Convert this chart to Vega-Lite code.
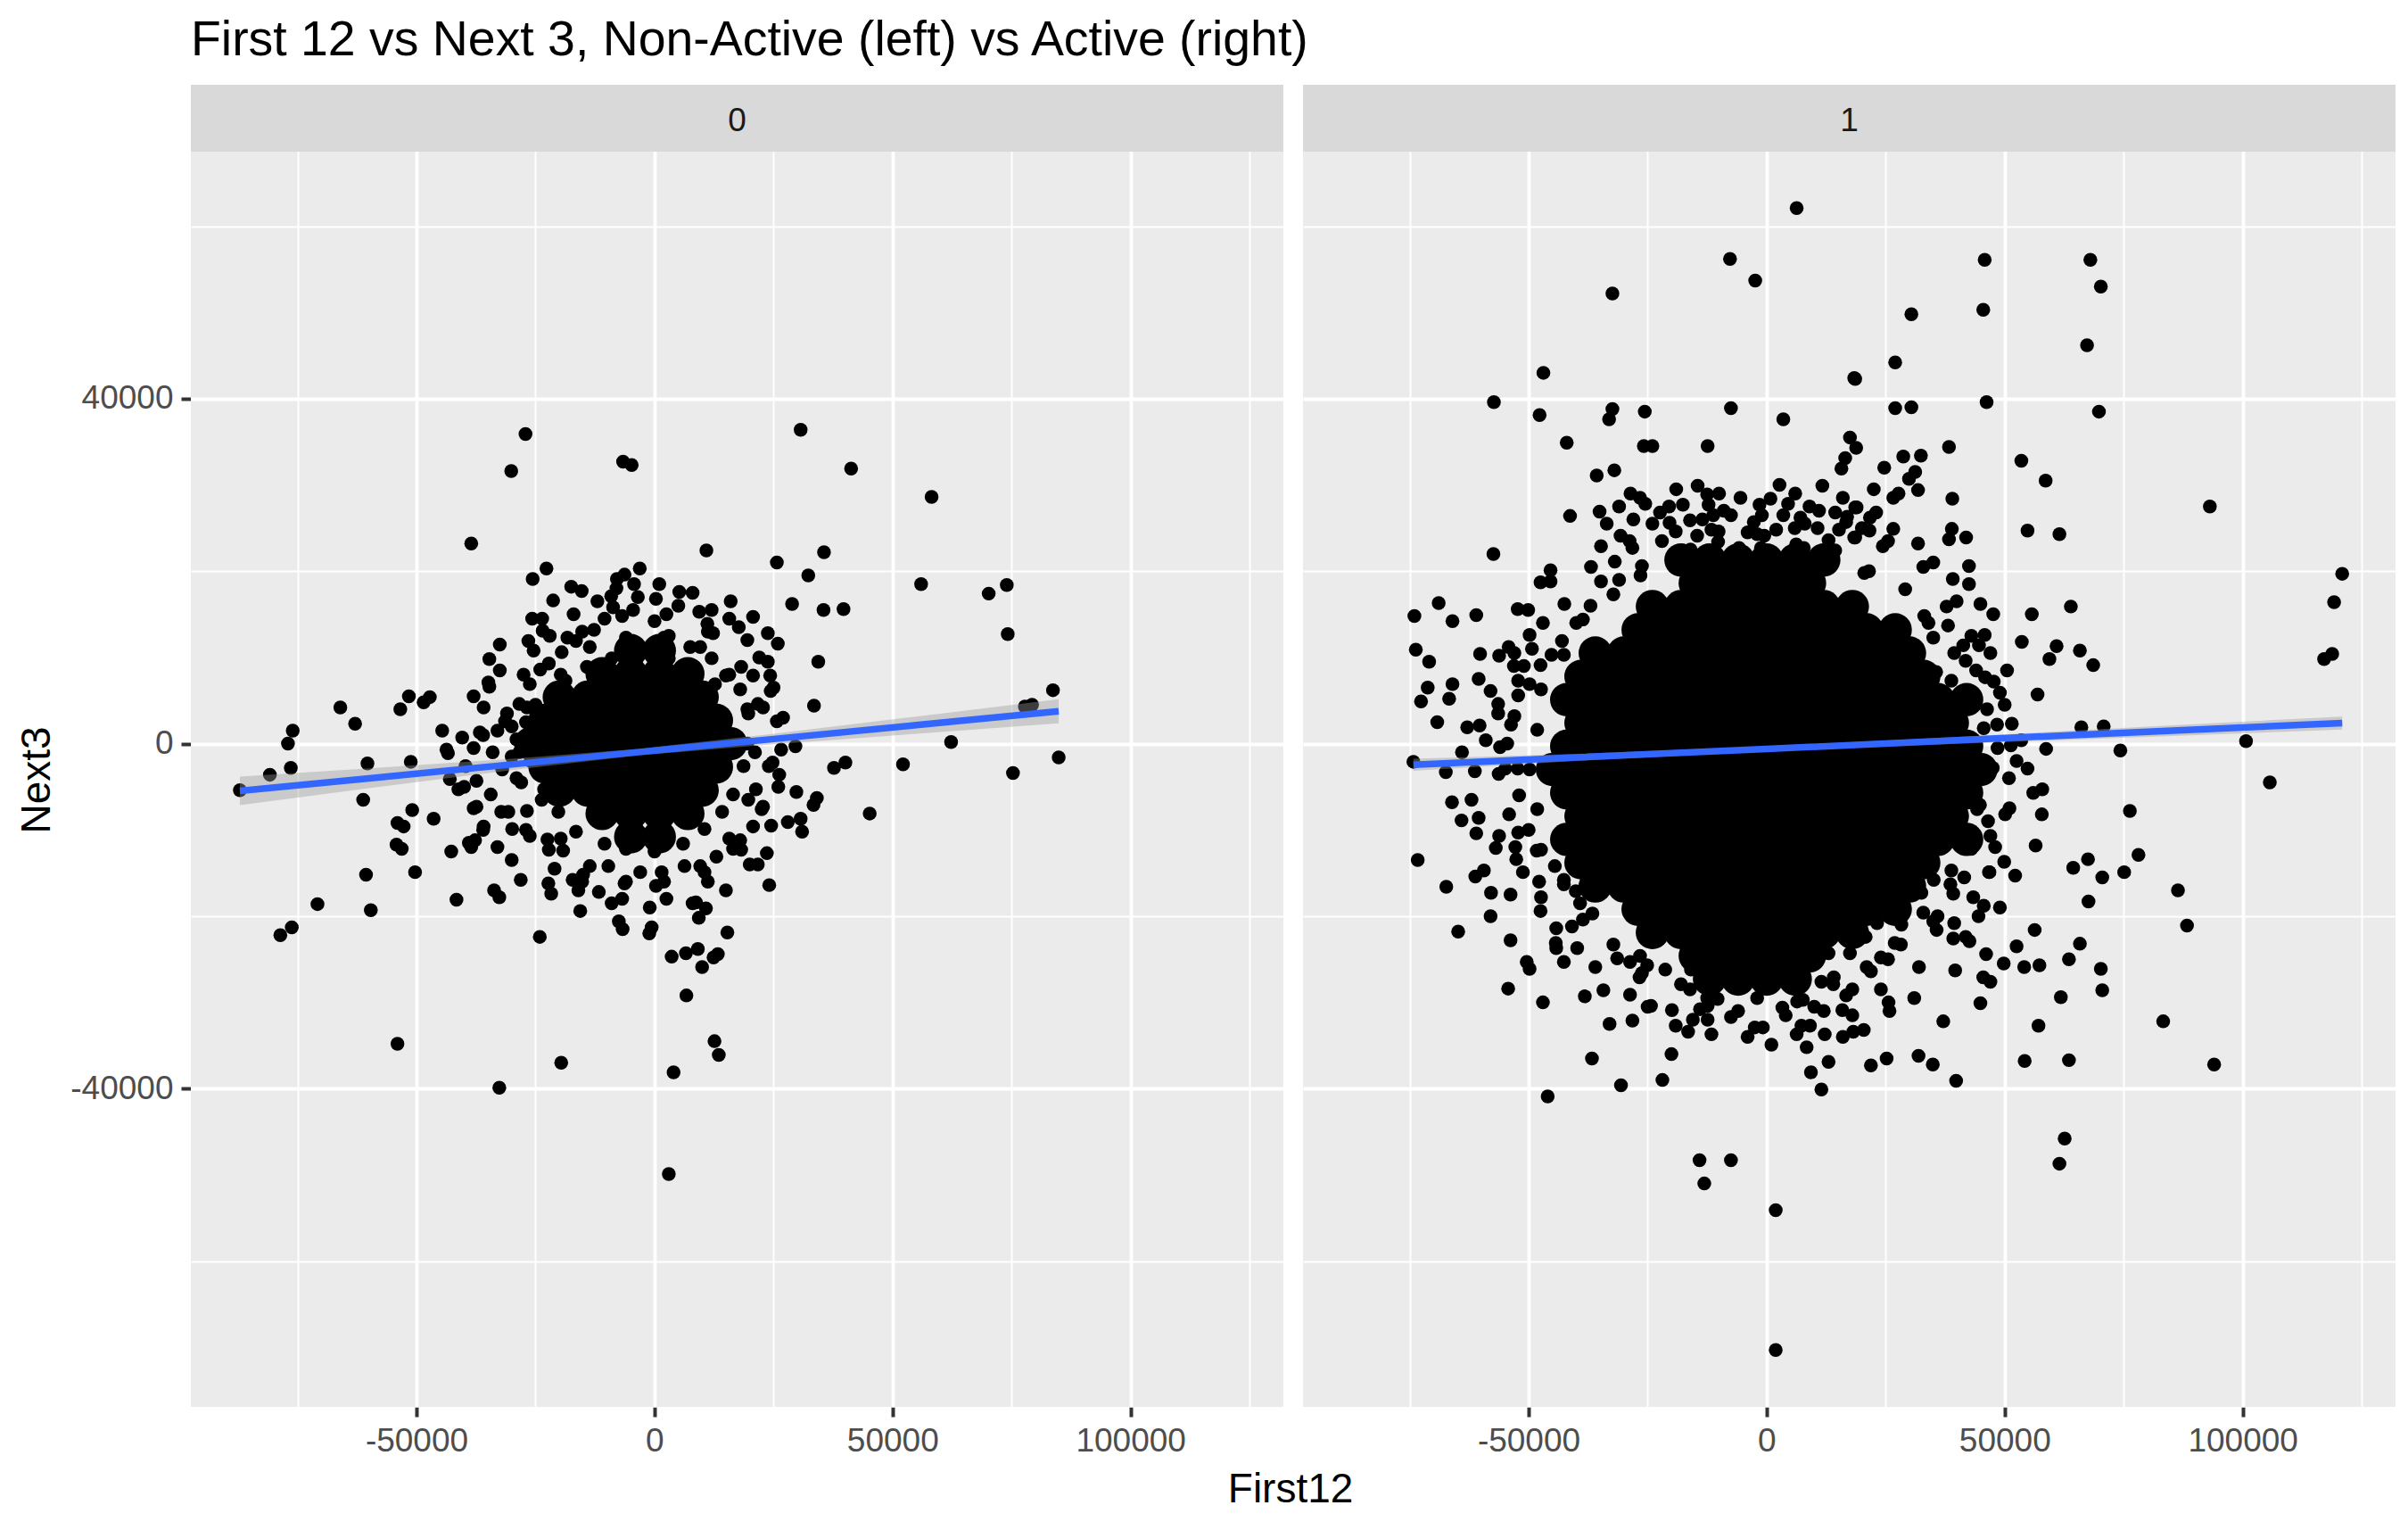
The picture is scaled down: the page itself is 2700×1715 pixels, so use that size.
{
  "$schema": "https://vega.github.io/schema/vega-lite/v6.json",
  "background": "#FFFFFF",
  "padding": {"left": 18, "top": 17, "right": 10, "bottom": 10},
  "title": {
    "text": "First12",
    "orient": "bottom",
    "anchor": "start",
    "frame": "bounds",
    "dx": 1358,
    "font": "Liberation Sans",
    "fontSize": 46,
    "fontWeight": "normal",
    "color": "#000000",
    "offset": 15
  },
  "data": {
    "values": [
      {"Active": 0, "First12": -27100, "Next3": 35900}, {"Active": 0, "First12": 30700, "Next3": 36400},
      {"Active": 0, "First12": -6600, "Next3": 32700}, {"Active": 0, "First12": -4800, "Next3": 32300},
      {"Active": 0, "First12": -30100, "Next3": 31600}, {"Active": 0, "First12": 41300, "Next3": 31900},
      {"Active": 0, "First12": 58200, "Next3": 28600}, {"Active": 0, "First12": -38500, "Next3": 23200},
      {"Active": 0, "First12": 10900, "Next3": 22400}, {"Active": 0, "First12": 35600, "Next3": 22200},
      {"Active": 0, "First12": 25700, "Next3": 21000}, {"Active": 0, "First12": 32300, "Next3": 19500},
      {"Active": 0, "First12": -22700, "Next3": 20300}, {"Active": 0, "First12": -25600, "Next3": 19100},
      {"Active": 0, "First12": 56000, "Next3": 18500}, {"Active": 0, "First12": 70200, "Next3": 17400},
      {"Active": 0, "First12": 74000, "Next3": 18400}, {"Active": 0, "First12": 74200, "Next3": 12700},
      {"Active": 0, "First12": 28900, "Next3": 16200}, {"Active": 0, "First12": 35500, "Next3": 15500},
      {"Active": 0, "First12": 39700, "Next3": 15600}, {"Active": 0, "First12": 34400, "Next3": 9500},
      {"Active": 0, "First12": 33500, "Next3": 4400}, {"Active": 0, "First12": 83700, "Next3": 6200},
      {"Active": 0, "First12": 79300, "Next3": 4500}, {"Active": 0, "First12": 77800, "Next3": 4300},
      {"Active": 0, "First12": 62300, "Next3": 200}, {"Active": 0, "First12": 84900, "Next3": -1600},
      {"Active": 0, "First12": 75300, "Next3": -3400}, {"Active": 0, "First12": 52200, "Next3": -2400},
      {"Active": 0, "First12": 40100, "Next3": -2200}, {"Active": 0, "First12": 37700, "Next3": -2800},
      {"Active": 0, "First12": 45200, "Next3": -8100}, {"Active": 0, "First12": 29600, "Next3": -300},
      {"Active": 0, "First12": 29800, "Next3": -5600}, {"Active": 0, "First12": 34100, "Next3": -6300},
      {"Active": 0, "First12": 33400, "Next3": -7100}, {"Active": 0, "First12": 28000, "Next3": -9100},
      {"Active": 0, "First12": 30700, "Next3": -8700}, {"Active": 0, "First12": 31000, "Next3": -10200},
      {"Active": 0, "First12": 23600, "Next3": -12700}, {"Active": 0, "First12": 21700, "Next3": -14000},
      {"Active": 0, "First12": 24100, "Next3": -16400}, {"Active": 0, "First12": 15300, "Next3": -21900},
      {"Active": 0, "First12": 13300, "Next3": -24400}, {"Active": 0, "First12": 8700, "Next3": -18400},
      {"Active": 0, "First12": 10800, "Next3": -19100}, {"Active": 0, "First12": 9300, "Next3": -20200},
      {"Active": 0, "First12": 9100, "Next3": -23800}, {"Active": 0, "First12": 12400, "Next3": -24800},
      {"Active": 0, "First12": 10000, "Next3": -25900}, {"Active": 0, "First12": 6600, "Next3": -24300},
      {"Active": 0, "First12": 3600, "Next3": -24700}, {"Active": 0, "First12": 6700, "Next3": -29200},
      {"Active": 0, "First12": 12600, "Next3": -34500}, {"Active": 0, "First12": 13500, "Next3": -36100},
      {"Active": 0, "First12": 4000, "Next3": -38100}, {"Active": 0, "First12": 3000, "Next3": -49900},
      {"Active": 0, "First12": -7500, "Next3": -20600}, {"Active": 0, "First12": -6700, "Next3": -21500},
      {"Active": 0, "First12": -600, "Next3": -21300}, {"Active": 0, "First12": -1100, "Next3": -22000},
      {"Active": 0, "First12": -24100, "Next3": -22400}, {"Active": 0, "First12": -19600, "Next3": -37000},
      {"Active": 0, "First12": -32600, "Next3": -39900}, {"Active": 0, "First12": -54000, "Next3": -34800},
      {"Active": 0, "First12": -70800, "Next3": -18600}, {"Active": 0, "First12": -59600, "Next3": -19300},
      {"Active": 0, "First12": -60600, "Next3": -15200}, {"Active": 0, "First12": -78600, "Next3": -22200},
      {"Active": 0, "First12": -76200, "Next3": -21300}, {"Active": 0, "First12": -50300, "Next3": -14900},
      {"Active": 0, "First12": -41600, "Next3": -18100}, {"Active": 0, "First12": -33700, "Next3": -17000},
      {"Active": 0, "First12": -32600, "Next3": -17800}, {"Active": 0, "First12": -28100, "Next3": -15800},
      {"Active": 0, "First12": -22300, "Next3": -16200}, {"Active": 0, "First12": -21700, "Next3": -17400},
      {"Active": 0, "First12": -15600, "Next3": -19400}, {"Active": 0, "First12": -42700, "Next3": -12500},
      {"Active": 0, "First12": -38500, "Next3": -12000}, {"Active": 0, "First12": -54200, "Next3": -11700},
      {"Active": 0, "First12": -53100, "Next3": -12200}, {"Active": 0, "First12": -54000, "Next3": -9200},
      {"Active": 0, "First12": -52700, "Next3": -9600}, {"Active": 0, "First12": -50900, "Next3": -7700},
      {"Active": 0, "First12": -46400, "Next3": -8700}, {"Active": 0, "First12": -61200, "Next3": -6500},
      {"Active": 0, "First12": -87100, "Next3": -5400}, {"Active": 0, "First12": -80800, "Next3": -3600},
      {"Active": 0, "First12": -76400, "Next3": -2800}, {"Active": 0, "First12": -77000, "Next3": 0},
      {"Active": 0, "First12": -76000, "Next3": 1500}, {"Active": 0, "First12": -66000, "Next3": 4200},
      {"Active": 0, "First12": -62900, "Next3": 2300}, {"Active": 0, "First12": -60300, "Next3": -2300},
      {"Active": 0, "First12": -51200, "Next3": -2100}, {"Active": 0, "First12": -53400, "Next3": 4000},
      {"Active": 0, "First12": -51600, "Next3": 5500}, {"Active": 0, "First12": -48500, "Next3": 4800},
      {"Active": 0, "First12": -47200, "Next3": 5400}, {"Active": 0, "First12": -44600, "Next3": 1500},
      {"Active": 0, "First12": -43400, "Next3": -1100}, {"Active": 0, "First12": -43000, "Next3": -4100},
      {"Active": 0, "First12": -38000, "Next3": 5500}, {"Active": 0, "First12": -35900, "Next3": 4200},
      {"Active": 0, "First12": -34900, "Next3": 7100}, {"Active": 0, "First12": -34700, "Next3": 6600},
      {"Active": 0, "First12": -34700, "Next3": 9800}, {"Active": 0, "First12": -32500, "Next3": 11500},
      {"Active": 0, "First12": -32500, "Next3": 8500}, {"Active": 0, "First12": -26500, "Next3": 11900},
      {"Active": 0, "First12": -25400, "Next3": 10800}, {"Active": 0, "First12": -25700, "Next3": 14500},
      {"Active": 0, "First12": -23600, "Next3": 14500}, {"Active": 0, "First12": -23500, "Next3": 13100},
      {"Active": 0, "First12": -21300, "Next3": 16600}, {"Active": 0, "First12": -17500, "Next3": 18200},
      {"Active": 0, "First12": -15300, "Next3": 17700}, {"Active": 0, "First12": -18300, "Next3": 12300},
      {"Active": 0, "First12": 5200, "Next3": 17600}, {"Active": 0, "First12": 300, "Next3": 16800},
      {"Active": 0, "First12": -3100, "Next3": 20300}, {"Active": 0, "First12": -6300, "Next3": 19600},
      {"Active": 0, "First12": -7900, "Next3": 19100}, {"Active": 0, "First12": -9100, "Next3": 17100},
      {"Active": 0, "First12": -8700, "Next3": 15800}, {"Active": 0, "First12": -4300, "Next3": 18500},
      {"Active": 0, "First12": 9400, "Next3": 15300}, {"Active": 0, "First12": 11100, "Next3": 13900},
      {"Active": 0, "First12": 15700, "Next3": 14500}, {"Active": 0, "First12": 20700, "Next3": 14700},
      {"Active": 0, "First12": 17700, "Next3": 13500}, {"Active": 0, "First12": 12300, "Next3": 12800},
      {"Active": 0, "First12": 23800, "Next3": 12800}, {"Active": 0, "First12": 25900, "Next3": 11600},
      {"Active": 0, "First12": 23800, "Next3": 9500}, {"Active": 0, "First12": 20700, "Next3": 7900},
      {"Active": 0, "First12": 24300, "Next3": 7900}, {"Active": 0, "First12": 24400, "Next3": 6100},
      {"Active": 0, "First12": 21700, "Next3": 4600}, {"Active": 0, "First12": 25700, "Next3": 2600},
      {"Active": 0, "First12": 26600, "Next3": -700}, {"Active": 0, "First12": 24000, "Next3": -2600},
      {"Active": 0, "First12": 26200, "Next3": -3600}, {"Active": 0, "First12": 21300, "Next3": -5300},
      {"Active": 0, "First12": 22500, "Next3": -7600}, {"Active": 0, "First12": 20700, "Next3": -9600},
      {"Active": 0, "First12": 18000, "Next3": -11200}, {"Active": 0, "First12": 16500, "Next3": -12200},
      {"Active": 0, "First12": 13000, "Next3": -13100}, {"Active": 0, "First12": 10500, "Next3": -14900},
      {"Active": 0, "First12": 6300, "Next3": -14200}, {"Active": 0, "First12": 1500, "Next3": -14900},
      {"Active": 0, "First12": 300, "Next3": -16500}, {"Active": 0, "First12": -3000, "Next3": -14900},
      {"Active": 0, "First12": -6300, "Next3": -16200}, {"Active": 0, "First12": -9700, "Next3": -14200},
      {"Active": 0, "First12": -11700, "Next3": -17200}, {"Active": 0, "First12": -15000, "Next3": -15200},
      {"Active": 0, "First12": -17200, "Next3": -15800}, {"Active": 0, "First12": -19200, "Next3": -12400},
      {"Active": 0, "First12": -22500, "Next3": -11100}, {"Active": 0, "First12": -26200, "Next3": -10700},
      {"Active": 0, "First12": -29900, "Next3": -9900}, {"Active": 0, "First12": -32200, "Next3": -7900},
      {"Active": 0, "First12": -34400, "Next3": -5900}, {"Active": 0, "First12": -37400, "Next3": -4300},
      {"Active": 0, "First12": -39700, "Next3": -2600}, {"Active": 0, "First12": -41200, "Next3": -5300},
      {"Active": 0, "First12": -37400, "Next3": -7300}, {"Active": 0, "First12": -35900, "Next3": -9600},
      {"Active": 0, "First12": -37700, "Next3": -11200}, {"Active": 0, "First12": -30700, "Next3": -7900},
      {"Active": 0, "First12": -43700, "Next3": -700}, {"Active": 0, "First12": -40400, "Next3": 700},
      {"Active": 0, "First12": -36700, "Next3": 1300}, {"Active": 0, "First12": -31400, "Next3": 2600},
      {"Active": 0, "First12": -28400, "Next3": 4600}, {"Active": 0, "First12": -26200, "Next3": 6900},
      {"Active": 0, "First12": -24000, "Next3": 8600}, {"Active": 0, "First12": -19500, "Next3": 10600},
      {"Active": 0, "First12": -16500, "Next3": 11900}, {"Active": 0, "First12": -12700, "Next3": 13200},
      {"Active": 0, "First12": -10500, "Next3": 14500}, {"Active": 0, "First12": -4500, "Next3": 15500},
      {"Active": 0, "First12": 0, "Next3": 14200}, {"Active": 0, "First12": 3000, "Next3": 12500},
      {"Active": 0, "First12": 7500, "Next3": 11200}, {"Active": 0, "First12": 12000, "Next3": 9900},
      {"Active": 0, "First12": 15000, "Next3": 7900}, {"Active": 0, "First12": 18000, "Next3": 6300},
      {"Active": 0, "First12": 19500, "Next3": 4000}, {"Active": 0, "First12": 19500, "Next3": 0},
      {"Active": 0, "First12": 18700, "Next3": -2600}, {"Active": 0, "First12": 16500, "Next3": -5900},
      {"Active": 0, "First12": 14200, "Next3": -7900}, {"Active": 0, "First12": 10500, "Next3": -9900},
      {"Active": 0, "First12": 6000, "Next3": -11600}, {"Active": 0, "First12": 0, "Next3": -12500},
      {"Active": 0, "First12": -6000, "Next3": -12200}, {"Active": 0, "First12": -10500, "Next3": -11600},
      {"Active": 0, "First12": -16500, "Next3": -10200}, {"Active": 0, "First12": -20200, "Next3": -7900},
      {"Active": 0, "First12": -23200, "Next3": -5300}, {"Active": 0, "First12": -24700, "Next3": -2600},
      {"Active": 0, "First12": -24700, "Next3": 0}, {"Active": 0, "First12": -24000, "Next3": 2600},
      {"Active": 0, "First12": -21700, "Next3": 5300}, {"Active": 0, "First12": -18700, "Next3": 7300},
      {"Active": 0, "First12": -14200, "Next3": 8900}, {"Active": 0, "First12": -9000, "Next3": 9900},
      {"Active": 0, "First12": -3000, "Next3": 10600}, {"Active": 0, "First12": 3000, "Next3": 9900},
      {"Active": 0, "First12": 8200, "Next3": 8900}, {"Active": 0, "First12": 12700, "Next3": 6900},
      {"Active": 0, "First12": 21100, "Next3": -1000}, {"Active": 0, "First12": 24800, "Next3": -2200},
      {"Active": 0, "First12": 19700, "Next3": 3500}, {"Active": 0, "First12": 22800, "Next3": 4200},
      {"Active": 0, "First12": 15700, "Next3": 8000}, {"Active": 0, "First12": 18200, "Next3": 8900},
      {"Active": 0, "First12": 9600, "Next3": 11200}, {"Active": 0, "First12": 11200, "Next3": 13000},
      {"Active": 0, "First12": 2000, "Next3": 12300}, {"Active": 0, "First12": 2500, "Next3": 15000},
      {"Active": 0, "First12": -6000, "Next3": 12300}, {"Active": 0, "First12": -6800, "Next3": 14800},
      {"Active": 0, "First12": -13600, "Next3": 11200}, {"Active": 0, "First12": -15200, "Next3": 13000},
      {"Active": 0, "First12": -19700, "Next3": 8000}, {"Active": 0, "First12": -22200, "Next3": 9300},
      {"Active": 0, "First12": -23700, "Next3": 3500}, {"Active": 0, "First12": -26800, "Next3": 4200},
      {"Active": 0, "First12": -25100, "Next3": -1500}, {"Active": 0, "First12": -28400, "Next3": -1000},
      {"Active": 0, "First12": -23700, "Next3": -6500}, {"Active": 0, "First12": -26800, "Next3": -7800},
      {"Active": 0, "First12": -19700, "Next3": -11000}, {"Active": 0, "First12": -22200, "Next3": -12300},
      {"Active": 0, "First12": -13600, "Next3": -14200}, {"Active": 0, "First12": -15200, "Next3": -16000},
      {"Active": 0, "First12": -6000, "Next3": -16000}, {"Active": 0, "First12": -6800, "Next3": -18000},
      {"Active": 0, "First12": 2000, "Next3": -16000}, {"Active": 0, "First12": 2500, "Next3": -18000},
      {"Active": 0, "First12": 9600, "Next3": -14200}, {"Active": 0, "First12": 11200, "Next3": -16000},
      {"Active": 0, "First12": 15700, "Next3": -11000}, {"Active": 0, "First12": 18200, "Next3": -12300},
      {"Active": 0, "First12": 19700, "Next3": -6500}, {"Active": 0, "First12": 22800, "Next3": -7300},
      {"Active": 0, "First12": -12000, "Next3": 16500}, {"Active": 0, "First12": -8000, "Next3": 18000},
      {"Active": 0, "First12": -3500, "Next3": 17000}, {"Active": 0, "First12": 1000, "Next3": 18500},
      {"Active": 0, "First12": 5000, "Next3": 16000}, {"Active": 0, "First12": 8000, "Next3": 17500},
      {"Active": 0, "First12": 12000, "Next3": 15500}, {"Active": 0, "First12": 16000, "Next3": 16500},
      {"Active": 0, "First12": 19500, "Next3": 12000}, {"Active": 0, "First12": 22000, "Next3": 10000},
      {"Active": 0, "First12": 25000, "Next3": 6500}, {"Active": 0, "First12": 27000, "Next3": 3000},
      {"Active": 0, "First12": 26000, "Next3": -5000}, {"Active": 0, "First12": 24500, "Next3": -9500},
      {"Active": 0, "First12": 20000, "Next3": -14000}, {"Active": 0, "First12": 15000, "Next3": -17000},
      {"Active": 0, "First12": 8000, "Next3": -18500}, {"Active": 0, "First12": -1000, "Next3": -19000},
      {"Active": 0, "First12": -9000, "Next3": -18500}, {"Active": 0, "First12": -16000, "Next3": -17000},
      {"Active": 0, "First12": -21000, "Next3": -14500}, {"Active": 0, "First12": -27000, "Next3": -10000},
      {"Active": 0, "First12": -29000, "Next3": -4000}, {"Active": 0, "First12": -30000, "Next3": 2000},
      {"Active": 0, "First12": -27500, "Next3": 8000}, {"Active": 0, "First12": -22000, "Next3": 12500},
      {"Active": 0, "First12": -17000, "Next3": 15000},
      {"Active": 0, "First12": -33000, "Next3": 1500}, {"Active": 0, "First12": -31000, "Next3": 3500},
      {"Active": 0, "First12": -29000, "Next3": 500}, {"Active": 0, "First12": -27000, "Next3": 2500},
      {"Active": 0, "First12": -25000, "Next3": 4500}, {"Active": 0, "First12": -30000, "Next3": -1500},
      {"Active": 0, "First12": -26000, "Next3": -2000}, {"Active": 0, "First12": -32000, "Next3": -3000},
      {"Active": 0, "First12": -28000, "Next3": -4500}, {"Active": 0, "First12": -34000, "Next3": -1000},
      {"Active": 0, "First12": -36000, "Next3": 1000}, {"Active": 0, "First12": -38000, "Next3": -500},
      {"Active": 0, "First12": -40000, "Next3": -5000}, {"Active": 0, "First12": -38000, "Next3": -7500},
      {"Active": 0, "First12": -36000, "Next3": -10000}, {"Active": 0, "First12": -39000, "Next3": -11500},
      {"Active": 0, "First12": -33000, "Next3": -12000}, {"Active": 0, "First12": -30000, "Next3": -13500},

      {"Active": 1, "First12": 6300, "Next3": 62100}, {"Active": 1, "First12": -7700, "Next3": 56200},
      {"Active": 1, "First12": -2400, "Next3": 53700}, {"Active": 1, "First12": -32400, "Next3": 52200},
      {"Active": 1, "First12": 18600, "Next3": 42300}, {"Active": 1, "First12": -46900, "Next3": 43000},
      {"Active": 1, "First12": -57300, "Next3": 39600}, {"Active": 1, "First12": -47700, "Next3": 38100},
      {"Active": 1, "First12": -32400, "Next3": 38800}, {"Active": 1, "First12": -33100, "Next3": 37600},
      {"Active": 1, "First12": -25600, "Next3": 38500}, {"Active": 1, "First12": -7500, "Next3": 38900},
      {"Active": 1, "First12": 3500, "Next3": 37600}, {"Active": 1, "First12": -42000, "Next3": 34900},
      {"Active": 1, "First12": -25800, "Next3": 34500}, {"Active": 1, "First12": -24000, "Next3": 34500},
      {"Active": 1, "First12": -12400, "Next3": 34500}, {"Active": 1, "First12": 17500, "Next3": 35500},
      {"Active": 1, "First12": 18800, "Next3": 34300}, {"Active": 1, "First12": 16500, "Next3": 33100},
      {"Active": 1, "First12": 15700, "Next3": 31900}, {"Active": 1, "First12": -32000, "Next3": 31700},
      {"Active": 1, "First12": -35700, "Next3": 31100}, {"Active": 1, "First12": -28600, "Next3": 29000},
      {"Active": 1, "First12": -26600, "Next3": 28500}, {"Active": 1, "First12": -41300, "Next3": 26400},
      {"Active": 1, "First12": -35100, "Next3": 26900}, {"Active": 1, "First12": -33600, "Next3": 25500},
      {"Active": 1, "First12": -14500, "Next3": 29900}, {"Active": 1, "First12": -12500, "Next3": 28900},
      {"Active": 1, "First12": -12200, "Next3": 27700}, {"Active": 1, "First12": -17600, "Next3": 27700},
      {"Active": 1, "First12": -16100, "Next3": 25900}, {"Active": 1, "First12": -22400, "Next3": 26800},
      {"Active": 1, "First12": 2700, "Next3": 30000}, {"Active": 1, "First12": 800, "Next3": 28400},
      {"Active": 1, "First12": 6000, "Next3": 29000}, {"Active": 1, "First12": 11700, "Next3": 29900},
      {"Active": 1, "First12": 14400, "Next3": 26800}, {"Active": 1, "First12": 18600, "Next3": 27400},
      {"Active": 1, "First12": -5800, "Next3": 22700}, {"Active": 1, "First12": -1200, "Next3": 22700},
      {"Active": 1, "First12": -30700, "Next3": 24100}, {"Active": 1, "First12": -28800, "Next3": 23500},
      {"Active": 1, "First12": -34800, "Next3": 22900}, {"Active": 1, "First12": -31900, "Next3": 21100},
      {"Active": 1, "First12": -57400, "Next3": 22000}, {"Active": 1, "First12": -45400, "Next3": 20100},
      {"Active": 1, "First12": -47500, "Next3": 18700}, {"Active": 1, "First12": -45400, "Next3": 18800},
      {"Active": 1, "First12": -74000, "Next3": 14800}, {"Active": 1, "First12": -68900, "Next3": 16300},
      {"Active": 1, "First12": -66000, "Next3": 14200}, {"Active": 1, "First12": -61000, "Next3": 14900},
      {"Active": 1, "First12": -52300, "Next3": 15600}, {"Active": 1, "First12": -50100, "Next3": 15500},
      {"Active": 1, "First12": -73700, "Next3": 10900}, {"Active": 1, "First12": -70900, "Next3": 9500},
      {"Active": 1, "First12": -60200, "Next3": 10400}, {"Active": 1, "First12": -56200, "Next3": 10200},
      {"Active": 1, "First12": -54200, "Next3": 11200}, {"Active": 1, "First12": -53000, "Next3": 10500},
      {"Active": 1, "First12": -53100, "Next3": 9000}, {"Active": 1, "First12": -49300, "Next3": 11000},
      {"Active": 1, "First12": -47500, "Next3": 9100}, {"Active": 1, "First12": -71200, "Next3": 6500},
      {"Active": 1, "First12": -72600, "Next3": 4900}, {"Active": 1, "First12": -66000, "Next3": 6900},
      {"Active": 1, "First12": -66700, "Next3": 5200}, {"Active": 1, "First12": -58000, "Next3": 6100},
      {"Active": 1, "First12": -56400, "Next3": 4600}, {"Active": 1, "First12": -56400, "Next3": 3500},
      {"Active": 1, "First12": -49800, "Next3": 6900}, {"Active": 1, "First12": -52200, "Next3": 5600},
      {"Active": 1, "First12": -53000, "Next3": 3200}, {"Active": 1, "First12": -69200, "Next3": 2500},
      {"Active": 1, "First12": -62900, "Next3": 1900}, {"Active": 1, "First12": -60300, "Next3": 2100},
      {"Active": 1, "First12": -59000, "Next3": 400}, {"Active": 1, "First12": -56000, "Next3": -400},
      {"Active": 1, "First12": -74200, "Next3": -2100}, {"Active": 1, "First12": -67400, "Next3": -3300},
      {"Active": 1, "First12": -61300, "Next3": -3200}, {"Active": 1, "First12": -54900, "Next3": -2900},
      {"Active": 1, "First12": -52300, "Next3": -2900}, {"Active": 1, "First12": -19100, "Next3": 24600},
      {"Active": 1, "First12": -14600, "Next3": 24100}, {"Active": 1, "First12": -11600, "Next3": 24800},
      {"Active": 1, "First12": -10100, "Next3": 24600}, {"Active": 1, "First12": -2700, "Next3": 25700},
      {"Active": 1, "First12": -500, "Next3": 24100}, {"Active": 1, "First12": 5900, "Next3": 25000},
      {"Active": 1, "First12": 10700, "Next3": 25000}, {"Active": 1, "First12": 15200, "Next3": 24800},
      {"Active": 1, "First12": 16700, "Next3": 25700}, {"Active": 1, "First12": 18600, "Next3": 23900},
      {"Active": 1, "First12": 7800, "Next3": 22700}, {"Active": 1, "First12": 13000, "Next3": 23600},
      {"Active": 1, "First12": -4900, "Next3": 20200}, {"Active": 1, "First12": 1800, "Next3": 21600},
      {"Active": 1, "First12": -18400, "Next3": 21300}, {"Active": 1, "First12": -34800, "Next3": 18800},
      {"Active": 1, "First12": -31000, "Next3": 19000}, {"Active": 1, "First12": -37000, "Next3": 16000},
      {"Active": 1, "First12": -40000, "Next3": 14000}, {"Active": 1, "First12": -43000, "Next3": 11900},
      {"Active": 1, "First12": -45200, "Next3": 10300},
      {"Active": 1, "First12": 45800, "Next3": 56100}, {"Active": 1, "First12": 68000, "Next3": 56100},
      {"Active": 1, "First12": 70200, "Next3": 53000}, {"Active": 1, "First12": 30400, "Next3": 49800},
      {"Active": 1, "First12": 45500, "Next3": 50300}, {"Active": 1, "First12": 67300, "Next3": 46200},
      {"Active": 1, "First12": 27000, "Next3": 44200}, {"Active": 1, "First12": 18400, "Next3": 42400},
      {"Active": 1, "First12": 27000, "Next3": 38900}, {"Active": 1, "First12": 30400, "Next3": 39000},
      {"Active": 1, "First12": 46200, "Next3": 39600}, {"Active": 1, "First12": 69800, "Next3": 38500},
      {"Active": 1, "First12": 38300, "Next3": 34400}, {"Active": 1, "First12": 53500, "Next3": 32800},
      {"Active": 1, "First12": 58600, "Next3": 30500}, {"Active": 1, "First12": 93100, "Next3": 27500},
      {"Active": 1, "First12": 24700, "Next3": 32000}, {"Active": 1, "First12": 28700, "Next3": 33300},
      {"Active": 1, "First12": 32400, "Next3": 33400}, {"Active": 1, "First12": 31200, "Next3": 31500},
      {"Active": 1, "First12": 29900, "Next3": 30700}, {"Active": 1, "First12": 31800, "Next3": 29400},
      {"Active": 1, "First12": 26600, "Next3": 28500}, {"Active": 1, "First12": 27700, "Next3": 29000},
      {"Active": 1, "First12": 39000, "Next3": 28400}, {"Active": 1, "First12": 18900, "Next3": 27400},
      {"Active": 1, "First12": 21700, "Next3": 26200}, {"Active": 1, "First12": 26600, "Next3": 24900},
      {"Active": 1, "First12": 21600, "Next3": 24700}, {"Active": 1, "First12": 18400, "Next3": 23900},
      {"Active": 1, "First12": 38900, "Next3": 24900}, {"Active": 1, "First12": 38300, "Next3": 23700},
      {"Active": 1, "First12": 41900, "Next3": 23900}, {"Active": 1, "First12": 31800, "Next3": 23200},
      {"Active": 1, "First12": 54800, "Next3": 24700}, {"Active": 1, "First12": 61500, "Next3": 24300},
      {"Active": 1, "First12": 42500, "Next3": 20600}, {"Active": 1, "First12": 39100, "Next3": 19100},
      {"Active": 1, "First12": 42500, "Next3": 18500}, {"Active": 1, "First12": 39900, "Next3": 16500},
      {"Active": 1, "First12": 44900, "Next3": 16200}, {"Active": 1, "First12": 47600, "Next3": 15000},
      {"Active": 1, "First12": 55700, "Next3": 15000}, {"Active": 1, "First12": 63900, "Next3": 15900},
      {"Active": 1, "First12": 53600, "Next3": 11800}, {"Active": 1, "First12": 60900, "Next3": 11300},
      {"Active": 1, "First12": 59400, "Next3": 9800}, {"Active": 1, "First12": 65800, "Next3": 10800},
      {"Active": 1, "First12": 68600, "Next3": 9100}, {"Active": 1, "First12": 56900, "Next3": 5700},
      {"Active": 1, "First12": 49000, "Next3": 5900}, {"Active": 1, "First12": 120900, "Next3": 19700},
      {"Active": 1, "First12": 119200, "Next3": 16400}, {"Active": 1, "First12": 118800, "Next3": 10400},
      {"Active": 1, "First12": 117100, "Next3": 9800}, {"Active": 1, "First12": 41300, "Next3": 11400},
      {"Active": 1, "First12": 44600, "Next3": 11400}, {"Active": 1, "First12": 41800, "Next3": 9600},
      {"Active": 1, "First12": 38800, "Next3": 7300}, {"Active": 1, "First12": 35600, "Next3": 8300},
      {"Active": 1, "First12": 45900, "Next3": 7700}, {"Active": 1, "First12": 46300, "Next3": 4000},
      {"Active": 1, "First12": 48400, "Next3": 2200}, {"Active": 1, "First12": 42900, "Next3": -100},
      {"Active": 1, "First12": 33100, "Next3": 14800}, {"Active": 1, "First12": 35000, "Next3": 12300},
      {"Active": 1, "First12": 38100, "Next3": 13700}, {"Active": 1, "First12": 66100, "Next3": 1900},
      {"Active": 1, "First12": 70800, "Next3": 2000}, {"Active": 1, "First12": 100700, "Next3": 300},
      {"Active": 1, "First12": 74300, "Next3": -800}, {"Active": 1, "First12": 58700, "Next3": -600},
      {"Active": 1, "First12": 54800, "Next3": -2900}, {"Active": 1, "First12": 47500, "Next3": -2800},
      {"Active": 1, "First12": 51300, "Next3": -200}, {"Active": 1, "First12": 53500, "Next3": 400},
      {"Active": 1, "First12": -73300, "Next3": -13500}, {"Active": 1, "First12": -67300, "Next3": -16600},
      {"Active": 1, "First12": -64800, "Next3": -21800}, {"Active": 1, "First12": -53800, "Next3": -22800},
      {"Active": 1, "First12": -54300, "Next3": -28400}, {"Active": 1, "First12": -47500, "Next3": -19400},
      {"Active": 1, "First12": -66100, "Next3": -6800}, {"Active": 1, "First12": -64100, "Next3": -8900},
      {"Active": 1, "First12": -60500, "Next3": -8600}, {"Active": 1, "First12": -61000, "Next3": -10400},
      {"Active": 1, "First12": -62000, "Next3": -6500}, {"Active": 1, "First12": -61200, "Next3": -15400},
      {"Active": 1, "First12": -59400, "Next3": -14700}, {"Active": 1, "First12": -57900, "Next3": -17300},
      {"Active": 1, "First12": -53800, "Next3": -17500}, {"Active": 1, "First12": -51200, "Next3": -14900},
      {"Active": 1, "First12": -56900, "Next3": -12100}, {"Active": 1, "First12": -56200, "Next3": -10700},
      {"Active": 1, "First12": -52800, "Next3": -12000}, {"Active": 1, "First12": -52200, "Next3": -10300},
      {"Active": 1, "First12": -48300, "Next3": -12400}, {"Active": 1, "First12": -47800, "Next3": -16000},
      {"Active": 1, "First12": -44500, "Next3": -14200}, {"Active": 1, "First12": -42600, "Next3": -15800},
      {"Active": 1, "First12": -40100, "Next3": -17100}, {"Active": 1, "First12": -44200, "Next3": -21400},
      {"Active": 1, "First12": -40900, "Next3": -21200}, {"Active": 1, "First12": -44200, "Next3": -23700},
      {"Active": 1, "First12": -39800, "Next3": -23700}, {"Active": 1, "First12": -42600, "Next3": -25300},
      {"Active": 1, "First12": -50400, "Next3": -25300}, {"Active": 1, "First12": -49800, "Next3": -26100},
      {"Active": 1, "First12": -38200, "Next3": -29300}, {"Active": 1, "First12": -34300, "Next3": -28600},
      {"Active": 1, "First12": -36700, "Next3": -36500}, {"Active": 1, "First12": -30600, "Next3": -39600},
      {"Active": 1, "First12": -21900, "Next3": -39000}, {"Active": 1, "First12": -46000, "Next3": -40900},
      {"Active": 1, "First12": -39200, "Next3": -18500}, {"Active": 1, "First12": -36600, "Next3": -19700},
      {"Active": 1, "First12": -31400, "Next3": -24900}, {"Active": 1, "First12": -28700, "Next3": -25300},
      {"Active": 1, "First12": -26600, "Next3": -24600}, {"Active": 1, "First12": -25100, "Next3": -25700},
      {"Active": 1, "First12": -26700, "Next3": -27100}, {"Active": 1, "First12": -24300, "Next3": -30400},
      {"Active": 1, "First12": -28200, "Next3": -32100}, {"Active": 1, "First12": -21300, "Next3": -26200},
      {"Active": 1, "First12": -16100, "Next3": -28500}, {"Active": 1, "First12": -15900, "Next3": -26200},
      {"Active": 1, "First12": -12500, "Next3": -29500}, {"Active": 1, "First12": -12400, "Next3": -30400},
      {"Active": 1, "First12": -19100, "Next3": -32700}, {"Active": 1, "First12": -16500, "Next3": -33400},
      {"Active": 1, "First12": -15500, "Next3": -32000}, {"Active": 1, "First12": -12400, "Next3": -32000},
      {"Active": 1, "First12": -7500, "Next3": -31700}, {"Active": 1, "First12": -14100, "Next3": -48300},
      {"Active": 1, "First12": -7500, "Next3": -48300}, {"Active": 1, "First12": -13100, "Next3": -51000},
      {"Active": 1, "First12": 1900, "Next3": -54100}, {"Active": 1, "First12": 1900, "Next3": -70300},
      {"Active": 1, "First12": -800, "Next3": -32900}, {"Active": 1, "First12": 1000, "Next3": -34900},
      {"Active": 1, "First12": 3300, "Next3": -30600}, {"Active": 1, "First12": 6600, "Next3": -27700},
      {"Active": 1, "First12": 7600, "Next3": -29700}, {"Active": 1, "First12": 9100, "Next3": -32700},
      {"Active": 1, "First12": 6300, "Next3": -33700}, {"Active": 1, "First12": 12200, "Next3": -33700},
      {"Active": 1, "First12": 8400, "Next3": -35200}, {"Active": 1, "First12": 16000, "Next3": -34000},
      {"Active": 1, "First12": 9300, "Next3": -38100}, {"Active": 1, "First12": 13000, "Next3": -36900},
      {"Active": 1, "First12": 11500, "Next3": -40100}, {"Active": 1, "First12": 6600, "Next3": -24300},
      {"Active": 1, "First12": 13000, "Next3": -24300}, {"Active": 1, "First12": 17500, "Next3": -24300},
      {"Active": 1, "First12": 11500, "Next3": -27600}, {"Active": 1, "First12": 14100, "Next3": -27100},
      {"Active": 1, "First12": 16700, "Next3": -29200}, {"Active": 1, "First12": 18200, "Next3": -33400},
      {"Active": 1, "First12": 105700, "Next3": -4500}, {"Active": 1, "First12": 76300, "Next3": -7800},
      {"Active": 1, "First12": 78100, "Next3": -12900}, {"Active": 1, "First12": 86400, "Next3": -17000},
      {"Active": 1, "First12": 88300, "Next3": -21100}, {"Active": 1, "First12": 75100, "Next3": -14900},
      {"Active": 1, "First12": 57900, "Next3": -5300}, {"Active": 1, "First12": 56000, "Next3": -5700},
      {"Active": 1, "First12": 57800, "Next3": -8200}, {"Active": 1, "First12": 56500, "Next3": -11800},
      {"Active": 1, "First12": 64400, "Next3": -14400}, {"Active": 1, "First12": 67500, "Next3": -13400},
      {"Active": 1, "First12": 70500, "Next3": -15500}, {"Active": 1, "First12": 67600, "Next3": -18300},
      {"Active": 1, "First12": 52200, "Next3": -15300}, {"Active": 1, "First12": 46700, "Next3": -14900},
      {"Active": 1, "First12": 56300, "Next3": -21600}, {"Active": 1, "First12": 65800, "Next3": -23200},
      {"Active": 1, "First12": 63500, "Next3": -25000}, {"Active": 1, "First12": 70200, "Next3": -26100},
      {"Active": 1, "First12": 70500, "Next3": -28600}, {"Active": 1, "First12": 61800, "Next3": -29400},
      {"Active": 1, "First12": 57100, "Next3": -32700}, {"Active": 1, "First12": 83300, "Next3": -32200},
      {"Active": 1, "First12": 94000, "Next3": -37200}, {"Active": 1, "First12": 63500, "Next3": -36700},
      {"Active": 1, "First12": 54200, "Next3": -36800}, {"Active": 1, "First12": 52500, "Next3": -23500},
      {"Active": 1, "First12": 49800, "Next3": -25500}, {"Active": 1, "First12": 54100, "Next3": -25900},
      {"Active": 1, "First12": 57300, "Next3": -25700}, {"Active": 1, "First12": 46100, "Next3": -24400},
      {"Active": 1, "First12": 45500, "Next3": -27100}, {"Active": 1, "First12": 47000, "Next3": -27600},
      {"Active": 1, "First12": 44900, "Next3": -30100}, {"Active": 1, "First12": 39600, "Next3": -26300},
      {"Active": 1, "First12": 39400, "Next3": -20800}, {"Active": 1, "First12": 35900, "Next3": -20000},
      {"Active": 1, "First12": 35700, "Next3": -21600}, {"Active": 1, "First12": 41800, "Next3": -22400},
      {"Active": 1, "First12": 42600, "Next3": -22900}, {"Active": 1, "First12": 37100, "Next3": -32200},
      {"Active": 1, "First12": 25800, "Next3": -31000}, {"Active": 1, "First12": 20400, "Next3": -33200},
      {"Active": 1, "First12": 21900, "Next3": -37300}, {"Active": 1, "First12": 25200, "Next3": -36500},
      {"Active": 1, "First12": 31900, "Next3": -36200}, {"Active": 1, "First12": 34900, "Next3": -37200},
      {"Active": 1, "First12": 39800, "Next3": -39100}, {"Active": 1, "First12": 62600, "Next3": -45800},
      {"Active": 1, "First12": 61500, "Next3": -48700}, {"Active": 1, "First12": 45600, "Next3": -18800},
      {"Active": 1, "First12": 41100, "Next3": -9700}, {"Active": 1, "First12": 47000, "Next3": -10700},
      {"Active": 1, "First12": 44800, "Next3": -7100}, {"Active": 1, "First12": 46800, "Next3": -14900},
      {"Active": 1, "First12": 39200, "Next3": -17400}, {"Active": 1, "First12": 28300, "Next3": -21000},
      {"Active": 1, "First12": 26900, "Next3": -23100}, {"Active": 1, "First12": 20800, "Next3": -22400},
      {"Active": 1, "First12": 21000, "Next3": -25900}, {"Active": 1, "First12": 24000, "Next3": -24800},
      {"Active": 1, "First12": 25500, "Next3": -25000}, {"Active": 1, "First12": 18000, "Next3": -28500},
      {"Active": 1, "First12": 24300, "Next3": -18900}, {"Active": 1, "First12": 23200, "Next3": -20800},
      {"Active": 1, "First12": 31100, "Next3": -16400}, {"Active": 1, "First12": 32500, "Next3": -17300},
      {"Active": 1, "First12": 32900, "Next3": -19600}, {"Active": 1, "First12": 35100, "Next3": -15800},
      {"Active": 1, "First12": 38800, "Next3": -14700},
      {"Active": 1, "First12": -24000, "Next3": 25500}, {"Active": 1, "First12": -20500, "Next3": 27500},
      {"Active": 1, "First12": -9000, "Next3": 27000}, {"Active": 1, "First12": -5500, "Next3": 28500},
      {"Active": 1, "First12": 3500, "Next3": 26500}, {"Active": 1, "First12": 9000, "Next3": 27500},
      {"Active": 1, "First12": 22500, "Next3": 29500}, {"Active": 1, "First12": 35000, "Next3": 21000},
      {"Active": 1, "First12": 50500, "Next3": 8500}, {"Active": 1, "First12": 51000, "Next3": -7500},
      {"Active": 1, "First12": 49000, "Next3": -19000}, {"Active": 1, "First12": 31000, "Next3": -29500},
      {"Active": 1, "First12": 12000, "Next3": -31000}, {"Active": 1, "First12": -4000, "Next3": -34000},
      {"Active": 1, "First12": -20000, "Next3": -36000}, {"Active": 1, "First12": -33000, "Next3": -32500},
      {"Active": 1, "First12": -47000, "Next3": -30000}, {"Active": 1, "First12": -58000, "Next3": -20000},
      {"Active": 1, "First12": -64000, "Next3": -1000}, {"Active": 1, "First12": -60500, "Next3": 7500},
      {"Active": 1, "First12": 45400, "Next3": -2500}, {"Active": 1, "First12": 50900, "Next3": -4000},
      {"Active": 1, "First12": 45600, "Next3": 1800}, {"Active": 1, "First12": 51500, "Next3": 2300},
      {"Active": 1, "First12": 42100, "Next3": 6100}, {"Active": 1, "First12": 47700, "Next3": 7200},
      {"Active": 1, "First12": 39400, "Next3": 10500}, {"Active": 1, "First12": 45800, "Next3": 12600},
      {"Active": 1, "First12": 34000, "Next3": 14000}, {"Active": 1, "First12": 37800, "Next3": 15900},
      {"Active": 1, "First12": 29100, "Next3": 17900}, {"Active": 1, "First12": 32900, "Next3": 20500},
      {"Active": 1, "First12": 21500, "Next3": 20000}, {"Active": 1, "First12": 24400, "Next3": 22900},
      {"Active": 1, "First12": 14400, "Next3": 22400}, {"Active": 1, "First12": 16900, "Next3": 26300},
      {"Active": 1, "First12": 6200, "Next3": 23100}, {"Active": 1, "First12": 7100, "Next3": 26200},
      {"Active": 1, "First12": -2000, "Next3": 24300}, {"Active": 1, "First12": -1500, "Next3": 27700},
      {"Active": 1, "First12": -10200, "Next3": 23400}, {"Active": 1, "First12": -11200, "Next3": 26500},
      {"Active": 1, "First12": -18000, "Next3": 21900}, {"Active": 1, "First12": -20400, "Next3": 25600},
      {"Active": 1, "First12": -26200, "Next3": 20600}, {"Active": 1, "First12": -28200, "Next3": 22700},
      {"Active": 1, "First12": -32200, "Next3": 17300}, {"Active": 1, "First12": -36900, "Next3": 20500},
      {"Active": 1, "First12": -38600, "Next3": 14400}, {"Active": 1, "First12": -42500, "Next3": 16200},
      {"Active": 1, "First12": -42600, "Next3": 10300}, {"Active": 1, "First12": -49800, "Next3": 12600},
      {"Active": 1, "First12": -47400, "Next3": 6300}, {"Active": 1, "First12": -52200, "Next3": 7300},
      {"Active": 1, "First12": -48200, "Next3": 1600}, {"Active": 1, "First12": -53700, "Next3": 2200},
      {"Active": 1, "First12": -49800, "Next3": -3000}, {"Active": 1, "First12": -56300, "Next3": -3500},
      {"Active": 1, "First12": -48200, "Next3": -7600}, {"Active": 1, "First12": -54100, "Next3": -8200},
      {"Active": 1, "First12": -47400, "Next3": -12300}, {"Active": 1, "First12": -52600, "Next3": -13400},
      {"Active": 1, "First12": -42600, "Next3": -16300}, {"Active": 1, "First12": -47400, "Next3": -17800},
      {"Active": 1, "First12": -38600, "Next3": -20400}, {"Active": 1, "First12": -44300, "Next3": -23100},
      {"Active": 1, "First12": -32200, "Next3": -23300}, {"Active": 1, "First12": -36000, "Next3": -25900},
      {"Active": 1, "First12": -26200, "Next3": -26600}, {"Active": 1, "First12": -28700, "Next3": -29100},
      {"Active": 1, "First12": -18000, "Next3": -27900}, {"Active": 1, "First12": -19900, "Next3": -30900},
      {"Active": 1, "First12": -10300, "Next3": -29600}, {"Active": 1, "First12": -11600, "Next3": -33700},
      {"Active": 1, "First12": -2000, "Next3": -29500}, {"Active": 1, "First12": -2500, "Next3": -32900},
      {"Active": 1, "First12": 6400, "Next3": -29900}, {"Active": 1, "First12": 7300, "Next3": -32700},
      {"Active": 1, "First12": 14000, "Next3": -27900}, {"Active": 1, "First12": 15900, "Next3": -30900},
      {"Active": 1, "First12": 21900, "Next3": -26400}, {"Active": 1, "First12": 25600, "Next3": -30000},
      {"Active": 1, "First12": 28200, "Next3": -23300}, {"Active": 1, "First12": 32000, "Next3": -25900},
      {"Active": 1, "First12": 35000, "Next3": -20600}, {"Active": 1, "First12": 39200, "Next3": -22600},
      {"Active": 1, "First12": 38600, "Next3": -16300}, {"Active": 1, "First12": 43400, "Next3": -17800},
      {"Active": 1, "First12": 43000, "Next3": -12200}, {"Active": 1, "First12": 49900, "Next3": -13700},
      {"Active": 1, "First12": 44200, "Next3": -7600}, {"Active": 1, "First12": 50100, "Next3": -8200},
      {"Active": 1, "First12": -28000, "Next3": 26000}, {"Active": 1, "First12": -25500, "Next3": 27800},
      {"Active": 1, "First12": -22000, "Next3": 23500}, {"Active": 1, "First12": -19000, "Next3": 29500},
      {"Active": 1, "First12": -16000, "Next3": 22500}, {"Active": 1, "First12": -13500, "Next3": 26000},
      {"Active": 1, "First12": -10000, "Next3": 29000}, {"Active": 1, "First12": -7500, "Next3": 26500},
      {"Active": 1, "First12": -4000, "Next3": 24500}, {"Active": 1, "First12": -1000, "Next3": 26500},
      {"Active": 1, "First12": 2000, "Next3": 24800}, {"Active": 1, "First12": 4500, "Next3": 27800},
      {"Active": 1, "First12": 8000, "Next3": 25500}, {"Active": 1, "First12": 11000, "Next3": 27000},
      {"Active": 1, "First12": 13500, "Next3": 22500}, {"Active": 1, "First12": 16000, "Next3": 28500},
      {"Active": 1, "First12": 20000, "Next3": 25000}, {"Active": 1, "First12": 23000, "Next3": 26800},
      {"Active": 1, "First12": 25500, "Next3": 23500}, {"Active": 1, "First12": -31000, "Next3": 27500},
      {"Active": 1, "First12": -26500, "Next3": 19500}, {"Active": 1, "First12": -8000, "Next3": 21500},
      {"Active": 1, "First12": 0, "Next3": 21800}, {"Active": 1, "First12": 10000, "Next3": 20200},
      {"Active": 1, "First12": 20500, "Next3": 19800}, {"Active": 1, "First12": 44000, "Next3": 8500},
      {"Active": 1, "First12": 47000, "Next3": 10500}, {"Active": 1, "First12": 48500, "Next3": -500},
      {"Active": 1, "First12": 50000, "Next3": 4500}, {"Active": 1, "First12": 46500, "Next3": -9000},
      {"Active": 1, "First12": 48000, "Next3": -12000}, {"Active": 1, "First12": 52500, "Next3": -2000},
      {"Active": 1, "First12": 43000, "Next3": 12500}, {"Active": 1, "First12": 41500, "Next3": -15500},
      {"Active": 1, "First12": 44500, "Next3": -20000}, {"Active": 1, "First12": -25000, "Next3": -30500},
      {"Active": 1, "First12": -14000, "Next3": -30800}, {"Active": 1, "First12": -6000, "Next3": -31000},
      {"Active": 1, "First12": 4000, "Next3": -31500}, {"Active": 1, "First12": 10000, "Next3": -30500},
      {"Active": 1, "First12": 18000, "Next3": -31500}, {"Active": 1, "First12": 24000, "Next3": -28500},
      {"Active": 1, "First12": -52000, "Next3": -6000}, {"Active": 1, "First12": -54500, "Next3": 0},
      {"Active": 1, "First12": -51000, "Next3": 9000}, {"Active": 1, "First12": -50000, "Next3": -10000},
      {"Active": 1, "First12": -47000, "Next3": 14000},

      {"Active": 0, "coreX": -20000, "coreY": 0}, {"Active": 0, "coreX": -14000, "coreY": 0},
      {"Active": 0, "coreX": -8000, "coreY": 0}, {"Active": 0, "coreX": -2000, "coreY": 0},
      {"Active": 0, "coreX": 4000, "coreY": 0}, {"Active": 0, "coreX": 10000, "coreY": 0},
      {"Active": 0, "coreX": 16000, "coreY": 0}, {"Active": 0, "coreX": -26000, "coreY": 0},
      {"Active": 0, "coreX": -17000, "coreY": 2700}, {"Active": 0, "coreX": -11000, "coreY": 2700},
      {"Active": 0, "coreX": -5000, "coreY": 2700}, {"Active": 0, "coreX": 1000, "coreY": 2700},
      {"Active": 0, "coreX": 7000, "coreY": 2700}, {"Active": 0, "coreX": 13000, "coreY": 2700},
      {"Active": 0, "coreX": -23000, "coreY": 2700},
      {"Active": 0, "coreX": -17000, "coreY": -2700}, {"Active": 0, "coreX": -11000, "coreY": -2700},
      {"Active": 0, "coreX": -5000, "coreY": -2700}, {"Active": 0, "coreX": 1000, "coreY": -2700},
      {"Active": 0, "coreX": 7000, "coreY": -2700}, {"Active": 0, "coreX": 13000, "coreY": -2700},
      {"Active": 0, "coreX": -23000, "coreY": -2700},
      {"Active": 0, "coreX": -14000, "coreY": 5400}, {"Active": 0, "coreX": -8000, "coreY": 5400},
      {"Active": 0, "coreX": -2000, "coreY": 5400}, {"Active": 0, "coreX": 4000, "coreY": 5400},
      {"Active": 0, "coreX": 10000, "coreY": 5400}, {"Active": 0, "coreX": -20000, "coreY": 5400},
      {"Active": 0, "coreX": -14000, "coreY": -5400}, {"Active": 0, "coreX": -8000, "coreY": -5400},
      {"Active": 0, "coreX": -2000, "coreY": -5400}, {"Active": 0, "coreX": 4000, "coreY": -5400},
      {"Active": 0, "coreX": 10000, "coreY": -5400}, {"Active": 0, "coreX": -20000, "coreY": -5400},
      {"Active": 0, "coreX": -11000, "coreY": 8100}, {"Active": 0, "coreX": -5000, "coreY": 8100},
      {"Active": 0, "coreX": 1000, "coreY": 8100}, {"Active": 0, "coreX": 7000, "coreY": 8100},
      {"Active": 0, "coreX": -11000, "coreY": -8100}, {"Active": 0, "coreX": -5000, "coreY": -8100},
      {"Active": 0, "coreX": 1000, "coreY": -8100}, {"Active": 0, "coreX": 7000, "coreY": -8100},
      {"Active": 0, "coreX": -5000, "coreY": 10800}, {"Active": 0, "coreX": 1000, "coreY": 10800},
      {"Active": 0, "coreX": -5000, "coreY": -10800}, {"Active": 0, "coreX": 1000, "coreY": -10800},

      {"Active": 1, "coreX": -45000, "coreY": -3000}, {"Active": 1, "coreX": -39000, "coreY": -3000},
      {"Active": 1, "coreX": -33000, "coreY": -3000}, {"Active": 1, "coreX": -27000, "coreY": -3000},
      {"Active": 1, "coreX": -21000, "coreY": -3000}, {"Active": 1, "coreX": -15000, "coreY": -3000},
      {"Active": 1, "coreX": -9000, "coreY": -3000}, {"Active": 1, "coreX": -3000, "coreY": -3000},
      {"Active": 1, "coreX": 3000, "coreY": -3000}, {"Active": 1, "coreX": 9000, "coreY": -3000},
      {"Active": 1, "coreX": 15000, "coreY": -3000}, {"Active": 1, "coreX": 21000, "coreY": -3000},
      {"Active": 1, "coreX": 27000, "coreY": -3000}, {"Active": 1, "coreX": 33000, "coreY": -3000},
      {"Active": 1, "coreX": 39000, "coreY": -3000}, {"Active": 1, "coreX": 45000, "coreY": -3000},
      {"Active": 1, "coreX": -42000, "coreY": -300}, {"Active": 1, "coreX": -36000, "coreY": -300},
      {"Active": 1, "coreX": -30000, "coreY": -300}, {"Active": 1, "coreX": -24000, "coreY": -300},
      {"Active": 1, "coreX": -18000, "coreY": -300}, {"Active": 1, "coreX": -12000, "coreY": -300},
      {"Active": 1, "coreX": -6000, "coreY": -300}, {"Active": 1, "coreX": 0, "coreY": -300},
      {"Active": 1, "coreX": 6000, "coreY": -300}, {"Active": 1, "coreX": 12000, "coreY": -300},
      {"Active": 1, "coreX": 18000, "coreY": -300}, {"Active": 1, "coreX": 24000, "coreY": -300},
      {"Active": 1, "coreX": 30000, "coreY": -300}, {"Active": 1, "coreX": 36000, "coreY": -300},
      {"Active": 1, "coreX": 42000, "coreY": -300},
      {"Active": 1, "coreX": -42000, "coreY": -5700}, {"Active": 1, "coreX": -36000, "coreY": -5700},
      {"Active": 1, "coreX": -30000, "coreY": -5700}, {"Active": 1, "coreX": -24000, "coreY": -5700},
      {"Active": 1, "coreX": -18000, "coreY": -5700}, {"Active": 1, "coreX": -12000, "coreY": -5700},
      {"Active": 1, "coreX": -6000, "coreY": -5700}, {"Active": 1, "coreX": 0, "coreY": -5700},
      {"Active": 1, "coreX": 6000, "coreY": -5700}, {"Active": 1, "coreX": 12000, "coreY": -5700},
      {"Active": 1, "coreX": 18000, "coreY": -5700}, {"Active": 1, "coreX": 24000, "coreY": -5700},
      {"Active": 1, "coreX": 30000, "coreY": -5700}, {"Active": 1, "coreX": 36000, "coreY": -5700},
      {"Active": 1, "coreX": 42000, "coreY": -5700},
      {"Active": 1, "coreX": -39000, "coreY": 2400}, {"Active": 1, "coreX": -33000, "coreY": 2400},
      {"Active": 1, "coreX": -27000, "coreY": 2400}, {"Active": 1, "coreX": -21000, "coreY": 2400},
      {"Active": 1, "coreX": -15000, "coreY": 2400}, {"Active": 1, "coreX": -9000, "coreY": 2400},
      {"Active": 1, "coreX": -3000, "coreY": 2400}, {"Active": 1, "coreX": 3000, "coreY": 2400},
      {"Active": 1, "coreX": 9000, "coreY": 2400}, {"Active": 1, "coreX": 15000, "coreY": 2400},
      {"Active": 1, "coreX": 21000, "coreY": 2400}, {"Active": 1, "coreX": 27000, "coreY": 2400},
      {"Active": 1, "coreX": 33000, "coreY": 2400}, {"Active": 1, "coreX": 39000, "coreY": 2400},
      {"Active": 1, "coreX": -39000, "coreY": -8400}, {"Active": 1, "coreX": -33000, "coreY": -8400},
      {"Active": 1, "coreX": -27000, "coreY": -8400}, {"Active": 1, "coreX": -21000, "coreY": -8400},
      {"Active": 1, "coreX": -15000, "coreY": -8400}, {"Active": 1, "coreX": -9000, "coreY": -8400},
      {"Active": 1, "coreX": -3000, "coreY": -8400}, {"Active": 1, "coreX": 3000, "coreY": -8400},
      {"Active": 1, "coreX": 9000, "coreY": -8400}, {"Active": 1, "coreX": 15000, "coreY": -8400},
      {"Active": 1, "coreX": 21000, "coreY": -8400}, {"Active": 1, "coreX": 27000, "coreY": -8400},
      {"Active": 1, "coreX": 33000, "coreY": -8400}, {"Active": 1, "coreX": 39000, "coreY": -8400},
      {"Active": 1, "coreX": -42000, "coreY": 5100}, {"Active": 1, "coreX": -36000, "coreY": 5100},
      {"Active": 1, "coreX": -30000, "coreY": 5100}, {"Active": 1, "coreX": -24000, "coreY": 5100},
      {"Active": 1, "coreX": -18000, "coreY": 5100}, {"Active": 1, "coreX": -12000, "coreY": 5100},
      {"Active": 1, "coreX": -6000, "coreY": 5100}, {"Active": 1, "coreX": 0, "coreY": 5100},
      {"Active": 1, "coreX": 6000, "coreY": 5100}, {"Active": 1, "coreX": 12000, "coreY": 5100},
      {"Active": 1, "coreX": 18000, "coreY": 5100}, {"Active": 1, "coreX": 24000, "coreY": 5100},
      {"Active": 1, "coreX": 30000, "coreY": 5100}, {"Active": 1, "coreX": 36000, "coreY": 5100},
      {"Active": 1, "coreX": 42000, "coreY": 5100},
      {"Active": 1, "coreX": -42000, "coreY": -11100}, {"Active": 1, "coreX": -36000, "coreY": -11100},
      {"Active": 1, "coreX": -30000, "coreY": -11100}, {"Active": 1, "coreX": -24000, "coreY": -11100},
      {"Active": 1, "coreX": -18000, "coreY": -11100}, {"Active": 1, "coreX": -12000, "coreY": -11100},
      {"Active": 1, "coreX": -6000, "coreY": -11100}, {"Active": 1, "coreX": 0, "coreY": -11100},
      {"Active": 1, "coreX": 6000, "coreY": -11100}, {"Active": 1, "coreX": 12000, "coreY": -11100},
      {"Active": 1, "coreX": 18000, "coreY": -11100}, {"Active": 1, "coreX": 24000, "coreY": -11100},
      {"Active": 1, "coreX": 30000, "coreY": -11100}, {"Active": 1, "coreX": 36000, "coreY": -11100},
      {"Active": 1, "coreX": 42000, "coreY": -11100},
      {"Active": 1, "coreX": -39000, "coreY": 7800}, {"Active": 1, "coreX": -33000, "coreY": 7800},
      {"Active": 1, "coreX": -27000, "coreY": 7800}, {"Active": 1, "coreX": -21000, "coreY": 7800},
      {"Active": 1, "coreX": -15000, "coreY": 7800}, {"Active": 1, "coreX": -9000, "coreY": 7800},
      {"Active": 1, "coreX": -3000, "coreY": 7800}, {"Active": 1, "coreX": 3000, "coreY": 7800},
      {"Active": 1, "coreX": 9000, "coreY": 7800}, {"Active": 1, "coreX": 15000, "coreY": 7800},
      {"Active": 1, "coreX": 21000, "coreY": 7800}, {"Active": 1, "coreX": 27000, "coreY": 7800},
      {"Active": 1, "coreX": 33000, "coreY": 7800},
      {"Active": 1, "coreX": -39000, "coreY": -13800}, {"Active": 1, "coreX": -33000, "coreY": -13800},
      {"Active": 1, "coreX": -27000, "coreY": -13800}, {"Active": 1, "coreX": -21000, "coreY": -13800},
      {"Active": 1, "coreX": -15000, "coreY": -13800}, {"Active": 1, "coreX": -9000, "coreY": -13800},
      {"Active": 1, "coreX": -3000, "coreY": -13800}, {"Active": 1, "coreX": 3000, "coreY": -13800},
      {"Active": 1, "coreX": 9000, "coreY": -13800}, {"Active": 1, "coreX": 15000, "coreY": -13800},
      {"Active": 1, "coreX": 21000, "coreY": -13800}, {"Active": 1, "coreX": 27000, "coreY": -13800},
      {"Active": 1, "coreX": 33000, "coreY": -13800},
      {"Active": 1, "coreX": -36000, "coreY": 10500}, {"Active": 1, "coreX": -30000, "coreY": 10500},
      {"Active": 1, "coreX": -24000, "coreY": 10500}, {"Active": 1, "coreX": -18000, "coreY": 10500},
      {"Active": 1, "coreX": -12000, "coreY": 10500}, {"Active": 1, "coreX": -6000, "coreY": 10500},
      {"Active": 1, "coreX": 0, "coreY": 10500}, {"Active": 1, "coreX": 6000, "coreY": 10500},
      {"Active": 1, "coreX": 12000, "coreY": 10500}, {"Active": 1, "coreX": 18000, "coreY": 10500},
      {"Active": 1, "coreX": 24000, "coreY": 10500}, {"Active": 1, "coreX": 30000, "coreY": 10500},
      {"Active": 1, "coreX": -36000, "coreY": -16500}, {"Active": 1, "coreX": -30000, "coreY": -16500},
      {"Active": 1, "coreX": -24000, "coreY": -16500}, {"Active": 1, "coreX": -18000, "coreY": -16500},
      {"Active": 1, "coreX": -12000, "coreY": -16500}, {"Active": 1, "coreX": -6000, "coreY": -16500},
      {"Active": 1, "coreX": 0, "coreY": -16500}, {"Active": 1, "coreX": 6000, "coreY": -16500},
      {"Active": 1, "coreX": 12000, "coreY": -16500}, {"Active": 1, "coreX": 18000, "coreY": -16500},
      {"Active": 1, "coreX": 24000, "coreY": -16500}, {"Active": 1, "coreX": 30000, "coreY": -16500},
      {"Active": 1, "coreX": -27000, "coreY": 13200}, {"Active": 1, "coreX": -21000, "coreY": 13200},
      {"Active": 1, "coreX": -15000, "coreY": 13200}, {"Active": 1, "coreX": -9000, "coreY": 13200},
      {"Active": 1, "coreX": -3000, "coreY": 13200}, {"Active": 1, "coreX": 3000, "coreY": 13200},
      {"Active": 1, "coreX": 9000, "coreY": 13200}, {"Active": 1, "coreX": 15000, "coreY": 13200},
      {"Active": 1, "coreX": 21000, "coreY": 13200}, {"Active": 1, "coreX": 27000, "coreY": 13200},
      {"Active": 1, "coreX": -27000, "coreY": -19200}, {"Active": 1, "coreX": -21000, "coreY": -19200},
      {"Active": 1, "coreX": -15000, "coreY": -19200}, {"Active": 1, "coreX": -9000, "coreY": -19200},
      {"Active": 1, "coreX": -3000, "coreY": -19200}, {"Active": 1, "coreX": 3000, "coreY": -19200},
      {"Active": 1, "coreX": 9000, "coreY": -19200}, {"Active": 1, "coreX": 15000, "coreY": -19200},
      {"Active": 1, "coreX": 21000, "coreY": -19200}, {"Active": 1, "coreX": 27000, "coreY": -19200},
      {"Active": 1, "coreX": -24000, "coreY": 15900}, {"Active": 1, "coreX": -18000, "coreY": 15900},
      {"Active": 1, "coreX": -12000, "coreY": 15900}, {"Active": 1, "coreX": -6000, "coreY": 15900},
      {"Active": 1, "coreX": 0, "coreY": 15900}, {"Active": 1, "coreX": 6000, "coreY": 15900},
      {"Active": 1, "coreX": 12000, "coreY": 15900}, {"Active": 1, "coreX": 18000, "coreY": 15900},
      {"Active": 1, "coreX": -24000, "coreY": -21900}, {"Active": 1, "coreX": -18000, "coreY": -21900},
      {"Active": 1, "coreX": -12000, "coreY": -21900}, {"Active": 1, "coreX": -6000, "coreY": -21900},
      {"Active": 1, "coreX": 0, "coreY": -21900}, {"Active": 1, "coreX": 6000, "coreY": -21900},
      {"Active": 1, "coreX": 12000, "coreY": -21900}, {"Active": 1, "coreX": 18000, "coreY": -21900},
      {"Active": 1, "coreX": -15000, "coreY": 18600}, {"Active": 1, "coreX": -9000, "coreY": 18600},
      {"Active": 1, "coreX": -3000, "coreY": 18600}, {"Active": 1, "coreX": 3000, "coreY": 18600},
      {"Active": 1, "coreX": 9000, "coreY": 18600},
      {"Active": 1, "coreX": -15000, "coreY": -24600}, {"Active": 1, "coreX": -9000, "coreY": -24600},
      {"Active": 1, "coreX": -3000, "coreY": -24600}, {"Active": 1, "coreX": 3000, "coreY": -24600},
      {"Active": 1, "coreX": 9000, "coreY": -24600},
      {"Active": 1, "coreX": -18000, "coreY": 21300}, {"Active": 1, "coreX": -12000, "coreY": 21300},
      {"Active": 1, "coreX": -6000, "coreY": 21300}, {"Active": 1, "coreX": 0, "coreY": 21300},
      {"Active": 1, "coreX": 6000, "coreY": 21300}, {"Active": 1, "coreX": 12000, "coreY": 21300},
      {"Active": 1, "coreX": -12000, "coreY": -27300}, {"Active": 1, "coreX": -6000, "coreY": -27300},
      {"Active": 1, "coreX": 0, "coreY": -27300}, {"Active": 1, "coreX": 6000, "coreY": -27300},

      {"Active": 0, "fitX": -87100, "fit": -5480, "lo": -7130, "hi": -3830},
      {"Active": 0, "fitX": -60000, "fit": -4020, "lo": -5170, "hi": -2870},
      {"Active": 0, "fitX": -30000, "fit": -2410, "lo": -3060, "hi": -1760},
      {"Active": 0, "fitX": -3000, "fit": -960, "lo": -1340, "hi": -580},
      {"Active": 0, "fitX": 25000, "fit": 540, "lo": -60, "hi": 1140},
      {"Active": 0, "fitX": 55000, "fit": 2150, "lo": 1150, "hi": 3150},
      {"Active": 0, "fitX": 84900, "fit": 3760, "lo": 2370, "hi": 5150},
      {"Active": 1, "fitX": -74200, "fit": -2450, "lo": -3150, "hi": -1750},
      {"Active": 1, "fitX": -40000, "fit": -1600, "lo": -2020, "hi": -1180},
      {"Active": 1, "fitX": 0, "fit": -610, "lo": -870, "hi": -350},
      {"Active": 1, "fitX": 40000, "fit": 390, "lo": -10, "hi": 790},
      {"Active": 1, "fitX": 80000, "fit": 1380, "lo": 780, "hi": 1980},
      {"Active": 1, "fitX": 120900, "fit": 2400, "lo": 1650, "hi": 3150}
    ]
  },
  "facet": {
    "column": {
      "field": "Active",
      "type": "nominal",
      "title": "First 12 vs Next 3, Non-Active (left) vs Active (right)",
      "header": {
        "labels": false,
        "titleOrient": "top",
        "titleAnchor": "start",
        "titleFont": "Liberation Sans",
        "titleFontSize": 55.4,
        "titleFontWeight": "normal",
        "titleColor": "#000000",
        "titlePadding": 12
      }
    }
  },
  "spacing": 22,
  "resolve": {"scale": {"x": "shared", "y": "shared"}},
  "spec": {
    "width": 1225,
    "height": 1482,
    "layer": [
      {
        "transform": [{"filter": "isValid(datum.First12)"}, {"aggregate": [{"op": "count", "as": "n"}], "groupby": ["Active"]}],
        "mark": {"type": "rect", "color": "#D9D9D9"},
        "encoding": {
          "x": {"datum": -97400, "type": "quantitative"},
          "x2": {"datum": 132100},
          "y": {"datum": 68640, "type": "quantitative"},
          "y2": {"datum": 76400}
        }
      },
      {
        "transform": [{"filter": "isValid(datum.coreX)"}],
        "mark": {"type": "point", "shape": "circle", "filled": true, "color": "#000000", "opacity": 1, "strokeWidth": 0, "size": 1400},
        "encoding": {
          "x": {"field": "coreX", "type": "quantitative"},
          "y": {"field": "coreY", "type": "quantitative"}
        }
      },
      {
        "transform": [{"filter": "isValid(datum.First12)"}],
        "mark": {"type": "point", "shape": "circle", "filled": true, "color": "#000000", "opacity": 1, "strokeWidth": 0, "size": 240},
        "encoding": {
          "x": {
            "field": "First12",
            "type": "quantitative",
            "scale": {"domain": [-97400, 132100], "nice": false, "zero": false},
            "axis": {
              "values": [-75000, -50000, -25000, 0, 25000, 50000, 75000, 100000, 125000],
              "labelExpr": "datum.value % 50000 === 0 ? '' + datum.value : ''",
              "title": null,
              "domain": false,
              "grid": true,
              "gridColor": "#FFFFFF",
              "gridWidth": {"condition": {"test": "datum.value % 50000 === 0", "value": 3.8}, "value": 1.9},
              "tickColor": "#333333",
              "tickWidth": 4,
              "tickSize": 11,
              "tickOpacity": {"condition": {"test": "datum.value % 50000 === 0", "value": 1}, "value": 0},
              "labelFont": "Liberation Sans",
              "labelFontSize": 37,
              "labelColor": "#4D4D4D",
              "labelPadding": 9,
              "labelOverlap": false,
              "labelFlush": false
            }
          },
          "y": {
            "field": "Next3",
            "type": "quantitative",
            "scale": {"domain": [-76900, 76400], "nice": false, "zero": false},
            "axis": {
              "values": [-60000, -40000, -20000, 0, 20000, 40000, 60000],
              "labelExpr": "datum.value % 40000 === 0 ? '' + datum.value : ''",
              "title": "Next3",
              "titleFont": "Liberation Sans",
              "titleFontSize": 46,
              "titleFontWeight": "normal",
              "titleColor": "#000000",
              "titlePadding": 13,
              "titleY": 779,
              "domain": false,
              "grid": true,
              "gridColor": "#FFFFFF",
              "gridWidth": {"condition": {"test": "datum.value % 40000 === 0", "value": 3.8}, "value": 1.9},
              "tickColor": "#333333",
              "tickWidth": 4,
              "tickSize": 11,
              "tickOpacity": {"condition": {"test": "datum.value % 40000 === 0", "value": 1}, "value": 0},
              "labelFont": "Liberation Sans",
              "labelFontSize": 37,
              "labelColor": "#4D4D4D",
              "labelPadding": 9,
              "labelOverlap": false,
              "labelFlush": false
            }
          }
        }
      },
      {
        "transform": [{"filter": "isValid(datum.fitX)"}],
        "mark": {"type": "area", "color": "#999999", "opacity": 0.4},
        "encoding": {
          "x": {"field": "fitX", "type": "quantitative"},
          "y": {"field": "lo", "type": "quantitative"},
          "y2": {"field": "hi"}
        }
      },
      {
        "transform": [{"filter": "isValid(datum.fitX)"}],
        "mark": {"type": "line", "color": "#3366FF", "strokeWidth": 7.5},
        "encoding": {
          "x": {"field": "fitX", "type": "quantitative"},
          "y": {"field": "fit", "type": "quantitative"}
        }
      },
      {
        "transform": [{"filter": "isValid(datum.First12)"}, {"aggregate": [{"op": "count", "as": "n"}], "groupby": ["Active"]}],
        "mark": {"type": "text", "font": "Liberation Sans", "fontSize": 37, "color": "#1A1A1A", "baseline": "middle", "align": "center"},
        "encoding": {
          "x": {"datum": 17350, "type": "quantitative"},
          "y": {"datum": 72210, "type": "quantitative"},
          "text": {"field": "Active", "type": "nominal"}
        }
      }
    ]
  },
  "config": {
    "view": {"fill": "#EBEBEB", "stroke": null}
  }
}
